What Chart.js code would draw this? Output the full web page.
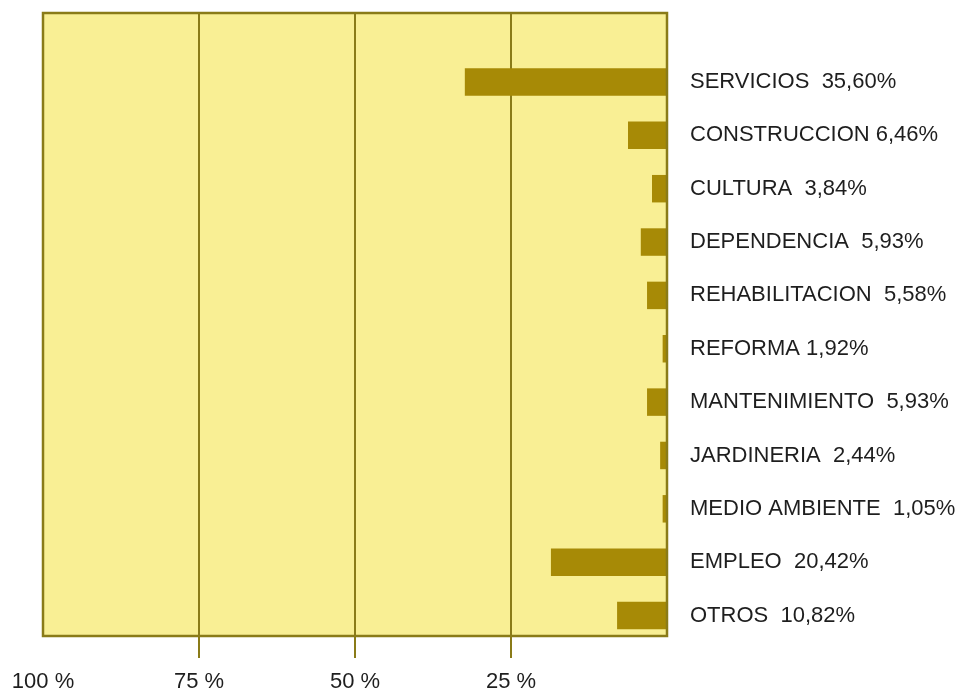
<!DOCTYPE html>
<html>
<head>
<meta charset="utf-8">
<script src="https://cdn.jsdelivr.net/npm/chart.js@4/dist/chart.umd.min.js"></script>
<style>
  html, body { margin: 0; padding: 0; background: #ffffff; }
  #wrap { width: 969px; height: 689px; position: relative; }
</style>
</head>
<body>
<div id="wrap"><canvas id="c"></canvas></div>
<script>
// ---- data ----
const categories = ["SERVICIOS", "CONSTRUCCION", "CULTURA", "DEPENDENCIA", "REHABILITACION",
  "REFORMA", "MANTENIMIENTO", "JARDINERIA", "MEDIO AMBIENTE", "EMPLEO", "OTROS"];
const shareLabels = ["35,60%", "6,46%", "3,84%", "5,93%", "5,58%", "1,92%", "5,93%", "2,44%", "1,05%", "20,42%", "10,82%"];
const labelSeparators = ["  ", " ", "  ", "  ", "  ", " ", "  ", "  ", "  ", "  ", "  "];
// bar lengths as drawn in the picture (percent of the 0-100 axis)
const barValues = [32.4, 6.25, 2.4, 4.2, 3.2, 0.7, 3.2, 1.1, 0.7, 18.6, 8.0];
const xTickValues = [0, 25, 50, 75, 100];

const rowLabels = categories.map((c, i) => c + labelSeparators[i] + shareLabels[i]);
const points = barValues.map((v, i) => ({ x: v, y: i }));

const OLIVE = '#8a7b18';
const BAR = '#a78a06';
const FILL = '#f9ef94';

const boxPlugin = {
  id: 'box',
  beforeDraw(chart) {
    const a = chart.chartArea, ctx = chart.ctx;
    ctx.save();
    ctx.fillStyle = FILL;
    ctx.fillRect(a.left, a.top, a.right - a.left, a.bottom - a.top);
    ctx.restore();
  },
  afterDatasetsDraw(chart) {
    const a = chart.chartArea, ctx = chart.ctx;
    ctx.save();
    ctx.strokeStyle = OLIVE;
    ctx.lineWidth = 2.5;
    ctx.strokeRect(a.left, a.top, a.right - a.left, a.bottom - a.top);
    ctx.restore();
  }
};

new Chart(document.getElementById('c'), {
  type: 'bar',
  data: {
    datasets: [{
      data: points,
      backgroundColor: BAR,
      borderWidth: 0,
      barPercentage: 0.515,
      categoryPercentage: 1
    }]
  },
  options: {
    indexAxis: 'y',
    responsive: true,
    maintainAspectRatio: false,
    animation: false,
    layout: { padding: { left: 43, top: 13, right: 0, bottom: 0 } },
    plugins: { legend: { display: false }, tooltip: { enabled: false } },
    scales: {
      x: {
        type: 'linear',
        position: 'bottom',
        reverse: true,
        min: 0,
        max: 100,
        offset: false,
        afterBuildTicks(scale) { scale.ticks = xTickValues.map(v => ({ value: v })); },
        afterFit(scale) { scale.height = 53; scale.paddingRight = 0; },
        border: { display: false },
        grid: {
          drawTicks: true,
          tickLength: 22,
          lineWidth: 2,
          color: (ctx) => (ctx.tick && (ctx.tick.value === 0 || ctx.tick.value === 100)) ? 'rgba(0,0,0,0)' : OLIVE
        },
        ticks: {
          autoSkip: false,
          maxRotation: 0,
          padding: 11,
          color: '#1e1e1e',
          font: { family: 'Liberation Sans', size: 22 },
          callback: (v) => v === 0 ? '' : v + ' %'
        }
      },
      y: {
        type: 'linear',
        position: 'right',
        reverse: true,
        offset: false,
        bounds: 'data',
        min: -1.293,
        max: 10.384,
        afterBuildTicks(scale) { scale.ticks = categories.map((_, i) => ({ value: i })); },
        afterFit(scale) { scale.width = 302; scale.paddingTop = 0; scale.paddingBottom = 0; },
        border: { display: false },
        grid: { display: false, drawTicks: false },
        ticks: {
          autoSkip: false,
          padding: 23,
          color: '#1e1e1e',
          font: { family: 'Liberation Sans', size: 22 },
          callback: (v) => rowLabels[v] !== undefined ? rowLabels[v] : ''
        }
      }
    }
  },
  plugins: [boxPlugin]
});
</script>
</body>
</html>
